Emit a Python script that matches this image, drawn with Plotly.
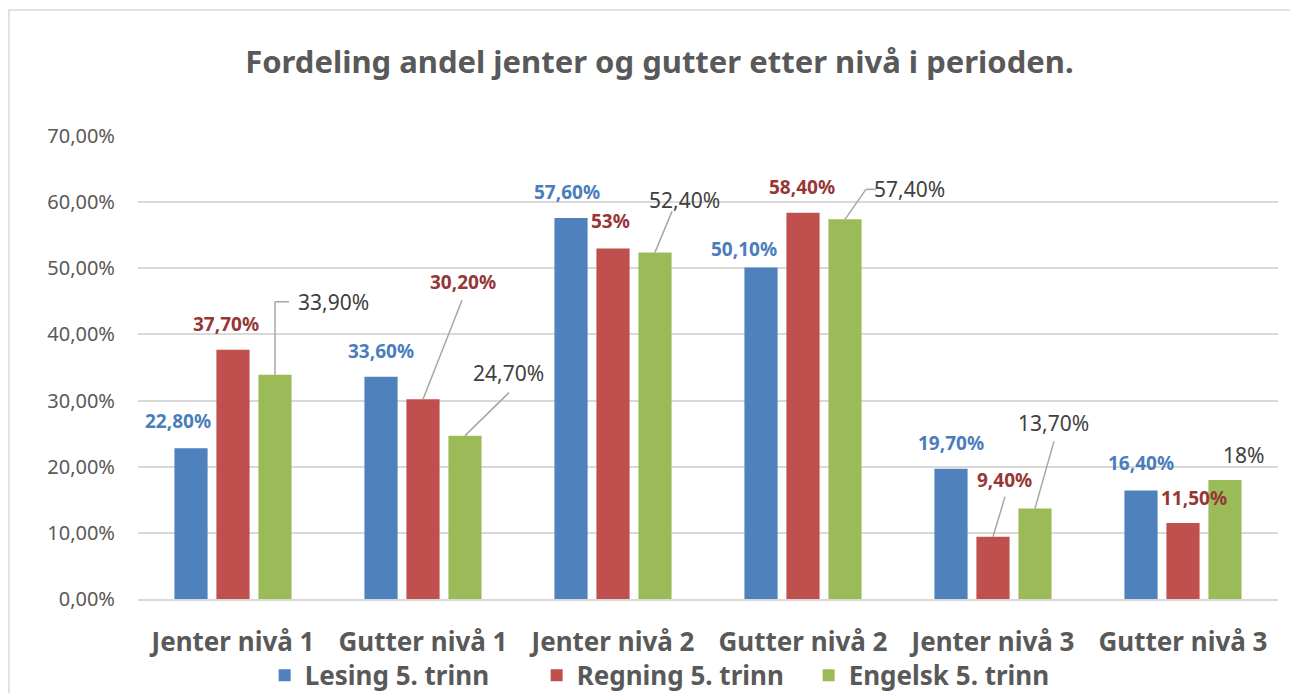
import plotly.graph_objects as go

# data (percent)
categories = ["Jenter nivå 1", "Gutter nivå 1", "Jenter nivå 2",
              "Gutter nivå 2", "Jenter nivå 3", "Gutter nivå 3"]
series_names = ["Lesing 5. trinn", "Regning 5. trinn", "Engelsk 5. trinn"]
lesing = [22.8, 33.6, 57.6, 50.1, 19.7, 16.4]
regning = [37.7, 30.2, 53.0, 58.4, 9.4, 11.5]
engelsk = [33.9, 24.7, 52.4, 57.4, 13.7, 18.0]
lesing_labels = ["22,80%", "33,60%", "57,60%", "50,10%", "19,70%", "16,40%"]
regning_labels = ["37,70%", "30,20%", "53%", "58,40%", "9,40%", "11,50%"]
engelsk_labels = ["33,90%", "24,70%", "52,40%", "57,40%", "13,70%", "18%"]
y_ticks = [0, 10, 20, 30, 40, 50, 60, 70]

# styling
bar_colors = ["#4F81BD", "#C0504D", "#9BBB59"]
label_colors = ["#4A7EBB", "#953735", "#404040"]
label_bold = [True, True, False]
label_size = [19, 19, 21]
font = "Noto Sans"
bargap = 0.337
slot = (1 - bargap) / 3

# label offsets (pixels from bar top centre)
label_shift = [
    [(-13, 27), (0, 26), (-4, 26), (-17, 19), (0, 26), (0, 28)],
    [(-7, 26), (40, 117), (-3, 27), (-1, 26), (11, 57), (11, 25)],
    [(59, 73), (44, 63), (30, 52), (65, 30), (19, 85), (19, 25)],
]
# leader lines: (series, category, [segments of pixel offsets])
leaders = [
    (2, 0, [(0, 0, 0, 73), (0, 73, 14, 73)]),
    (1, 1, [(0, 0, 39, 99)]),
    (2, 1, [(0, 0, 44, 43)]),
    (2, 2, [(0, 0, 17, 41)]),
    (2, 3, [(0, 0, 21, 30), (21, 30, 31, 30)]),
    (1, 4, [(0, 0, 12, 40)]),
    (2, 4, [(0, 0, 19, 67)]),
]

values = [lesing, regning, engelsk]
labels = [lesing_labels, regning_labels, engelsk_labels]
xs = list(range(len(categories)))

fig = go.Figure()
for k in range(3):
    fig.add_trace(go.Bar(x=xs, y=values[k], name="<b>" + series_names[k] + "</b>",
                         marker_color=bar_colors[k], marker_line_width=0))

annotations = []
for k in range(3):
    for i, v in enumerate(values[k]):
        dx, dy = label_shift[k][i]
        txt = labels[k][i]
        if label_bold[k]:
            txt = "<b>" + txt + "</b>"
        annotations.append(dict(
            x=i + (k - 1) * slot, y=v, xref="x", yref="y", text=txt,
            showarrow=False, xshift=dx, yshift=dy,
            font=dict(family=font, size=label_size[k], color=label_colors[k])))

shapes = []
for k, i, segs in leaders:
    for x0, y0, x1, y1 in segs:
        shapes.append(dict(
            type="line", xref="x", yref="y",
            xsizemode="pixel", ysizemode="pixel",
            xanchor=i + (k - 1) * slot, yanchor=values[k][i],
            x0=x0, y0=y0, x1=x1, y1=y1,
            line=dict(color="#A6A6A6", width=1.5)))

# chart border (only top and left visible in the reference)
shapes.append(dict(type="rect", xref="paper", yref="paper",
                   x0=-0.1132, x1=1.05, y0=-0.3, y1=1.2721,
                   line=dict(color="#D9D9D9", width=1.5), layer="below"))

fig.update_layout(
    width=1290, height=685,
    paper_bgcolor="white", plot_bgcolor="white",
    margin=dict(l=130, r=20, t=128, b=94, autoexpand=False),
    barmode="group", bargap=bargap, bargroupgap=0.21,
    title=dict(text="<b>Fordeling andel jenter og gutter etter nivå i perioden.</b>",
               x=0.505, xanchor="center", y=0.921, yanchor="middle",
               font=dict(family=font, size=31, color="#595959")),
    xaxis=dict(tickmode="array", tickvals=xs,
               ticktext=["<b>" + c + "</b>" for c in categories],
               range=[-0.5, len(categories) - 0.5], showgrid=False,
               showline=True, linecolor="#D9D9D9", linewidth=1.5, ticks="",
               ticklabelstandoff=19,
               tickfont=dict(family=font, size=26, color="#595959")),
    yaxis=dict(range=[0, 70], tickmode="array", tickvals=y_ticks,
               ticktext=[f"{v},00%" for v in y_ticks], showgrid=True,
               gridcolor="#D9D9D9", gridwidth=1.5, zeroline=False,
               showline=False, ticks="", ticklabelstandoff=22,
               tickfont=dict(family=font, size=20, color="#595959")),
    legend=dict(orientation="h", x=0.469, xanchor="center", y=-0.165,
                yanchor="middle", traceorder="normal",
                entrywidth=227, entrywidthmode="pixels",
                bgcolor="rgba(0,0,0,0)",
                font=dict(family=font, size=26, color="#595959")),
    annotations=annotations, shapes=shapes,
)

fig.write_html("out.html")
